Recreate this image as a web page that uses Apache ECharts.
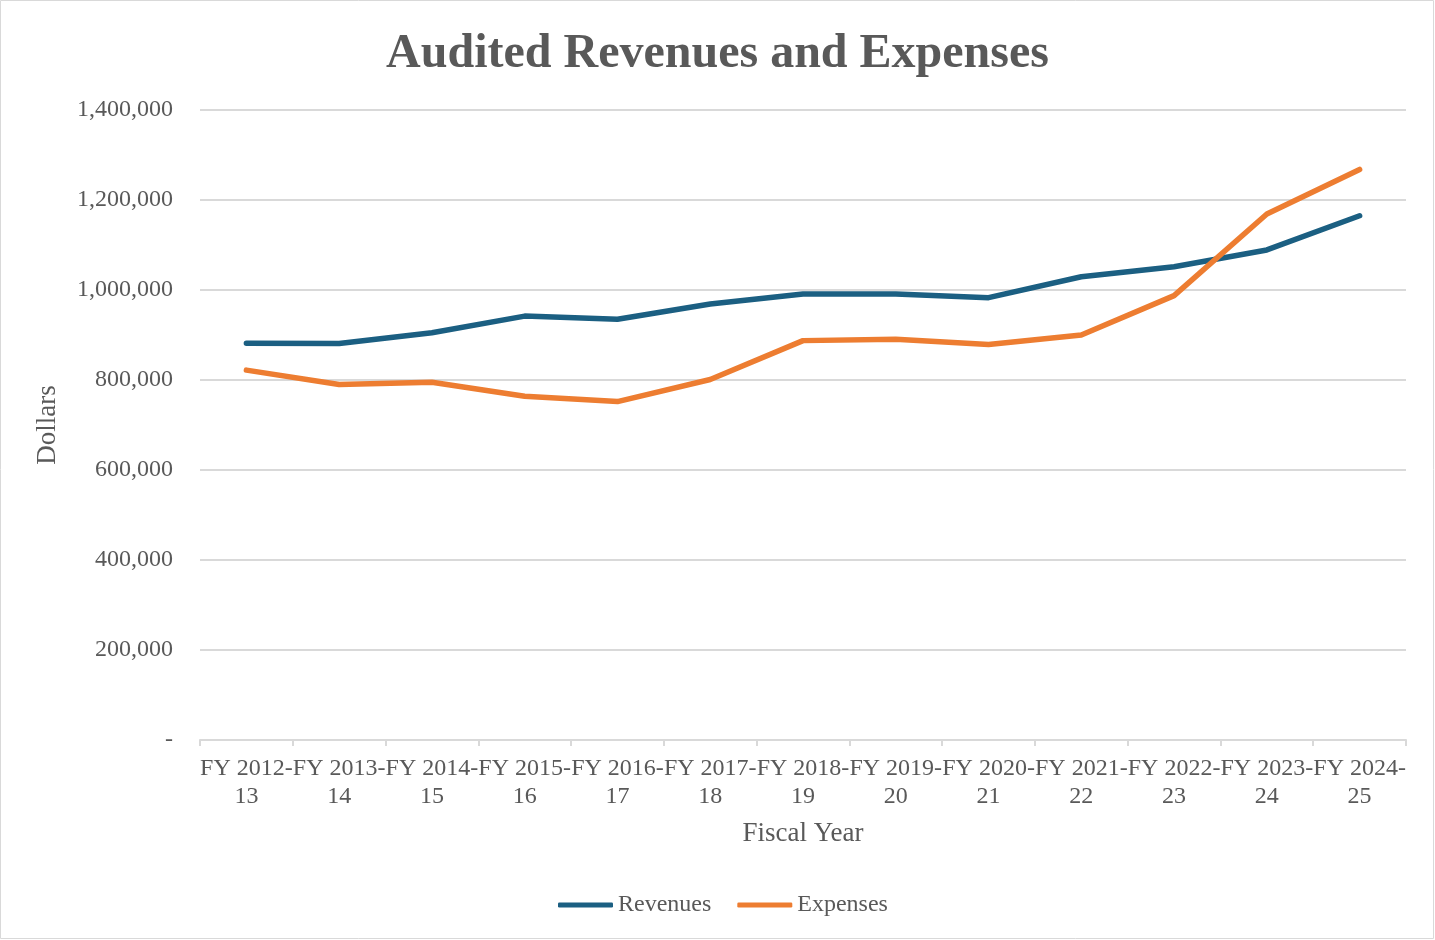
<!DOCTYPE html>
<html>
<head>
  <meta charset="utf-8">
  <title>Audited Revenues and Expenses</title>
  <script src="https://cdn.jsdelivr.net/npm/echarts@6/dist/echarts.min.js"></script>
  <style>
    html, body {
      margin: 0;
      padding: 0;
      background: #fff;
    }
    #chart {
      width: 1435px;
      height: 940px;
    }
  </style>
</head>
<body>
<div id="chart"></div>
<script>
  // data
  var fiscalYears = ['FY 2012-\n13', 'FY 2013-\n14', 'FY 2014-\n15', 'FY 2015-\n16', 'FY 2016-\n17',
    'FY 2017-\n18', 'FY 2018-\n19', 'FY 2019-\n20', 'FY 2020-\n21', 'FY 2021-\n22',
    'FY 2022-\n23', 'FY 2023-\n24', 'FY 2024-\n25'];
  var revenues = [881500, 881000, 905000, 942000, 935000, 969000, 991000, 991000, 983000, 1029500, 1051500, 1089000, 1165000];
  var expenses = [822000, 790000, 795000, 764000, 752000, 801000, 887500, 890500, 879000, 900000, 987500, 1169000, 1268000];

  var fontName = "'Liberation Serif', 'Times New Roman', serif";
  var textColor = '#595959';
  var gridColor = '#d9d9d9';

  var chart = echarts.init(document.getElementById('chart'));

  function lineSeries(name, data, color) {
    return {
      type: 'line',
      name: name,
      data: data,
      showSymbol: false,
      symbol: 'none',
      animation: false,
      lineStyle: {color: color, width: 5.5, cap: 'round', join: 'round'},
      itemStyle: {color: color}
    };
  }

  var option = {
    textStyle: {fontFamily: fontName},
    /*外框*/
    graphic: [{
      type: 'rect',
      shape: {x: 0.5, y: 0.5, width: 1433, height: 938},
      style: {fill: 'none', stroke: gridColor, lineWidth: 1},
      silent: true
    }],
    title: {
      text: 'Audited Revenues and Expenses',
      left: 'center',
      top: 26,
      textStyle: {
        fontFamily: fontName,
        fontSize: 48,
        fontWeight: 'bold',
        color: textColor
      }
    },
    legend: {
      left: 553,
      top: 888,
      icon: 'roundRect',
      itemWidth: 55,
      itemHeight: 5,
      itemGap: 26,
      textStyle: {fontFamily: fontName, fontSize: 24, color: textColor},
      data: ['Revenues', 'Expenses']
    },
    grid: {
      left: 200,
      right: 29,
      top: 110,
      bottom: 200,
      containLabel: false
    },
    xAxis: {
      type: 'category',
      data: fiscalYears,
      boundaryGap: true,
      name: 'Fiscal Year',
      nameLocation: 'middle',
      nameGap: 80,
      nameTextStyle: {fontFamily: fontName, fontSize: 27, color: textColor},
      axisLine: {lineStyle: {color: gridColor, width: 2}},
      axisTick: {show: true, alignWithLabel: false, length: 6, lineStyle: {color: gridColor, width: 2}},
      axisLabel: {
        interval: 0,
        margin: 15,
        fontFamily: fontName,
        fontSize: 24,
        lineHeight: 28,
        color: textColor
      }
    },
    yAxis: {
      type: 'value',
      min: 0,
      max: 1400000,
      interval: 200000,
      name: 'Dollars',
      nameLocation: 'middle',
      nameGap: 139,
      nameRotate: 90,
      nameTextStyle: {fontFamily: fontName, fontSize: 27, color: textColor},
      axisLine: {show: false},
      axisTick: {show: false},
      axisLabel: {
        margin: 27,
        fontFamily: fontName,
        fontSize: 24,
        color: textColor,
        formatter: function (value) {
          if (value === 0) {
            return '-';
          }
          return value.toLocaleString('en-US');
        }
      },
      splitLine: {lineStyle: {color: gridColor, width: 2}}
    },
    series: [
      lineSeries('Revenues', revenues, '#1b5f82'),
      lineSeries('Expenses', expenses, '#ed7d31')
    ]
  };

  chart.setOption(option);
</script>
</body>
</html>
